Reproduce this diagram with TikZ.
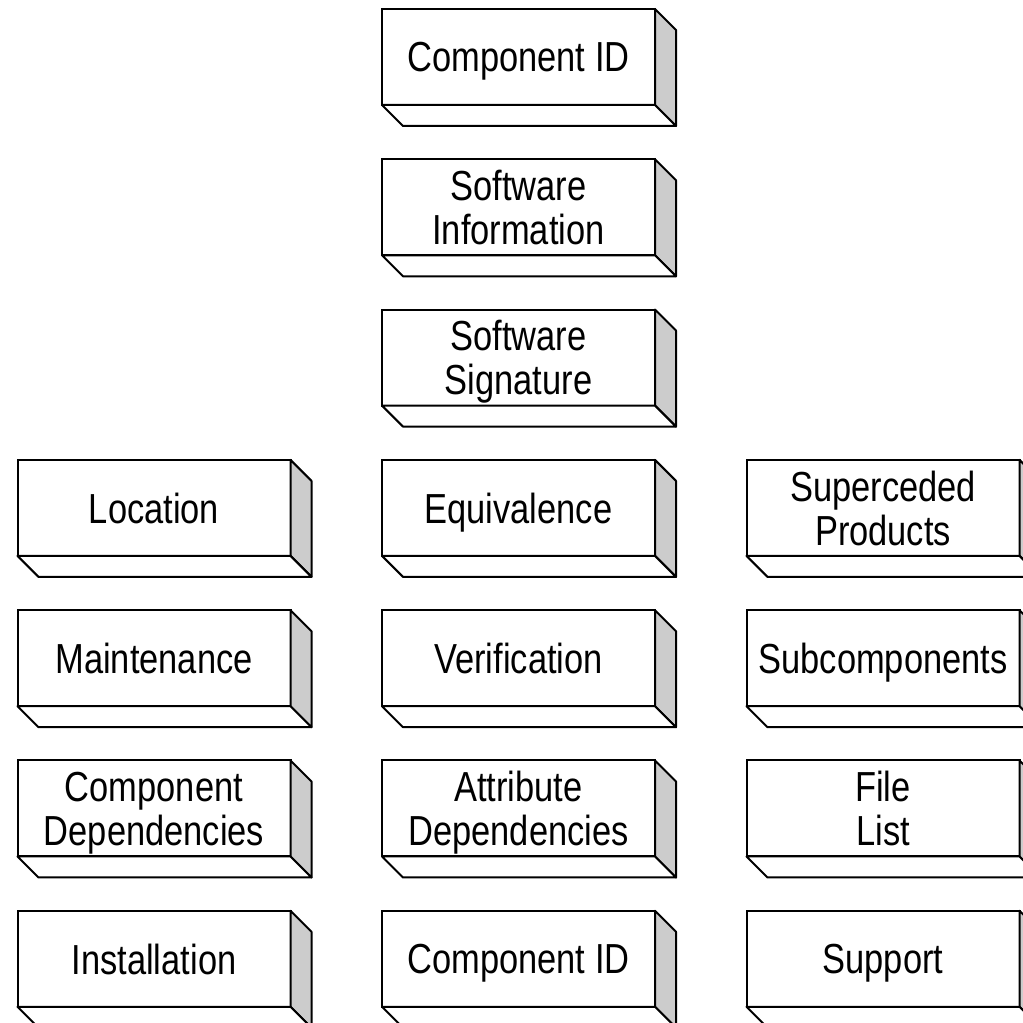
\documentclass[tikz,border=0pt]{standalone}
\usepackage{fontspec}
\setmainfont{Liberation Sans}[FakeStretch=0.82]
\usetikzlibrary{positioning}
\tikzset{%
  % Specifications for the faces of the blocks:
       slab/.style = {rectangle, draw=black, line width=1pt, fill=white,
                      minimum width=136.5pt, minimum height=48pt,
                      inner sep=0pt, outer sep=0pt, align=center,
                      text depth=-2pt,
                      font=\fontsize{21}{22}\selectfont},
   sideface/.style = {draw=black, line width=1pt, fill=gray!40, line join=round},
   baseface/.style = {draw=black, line width=1pt, fill=white, line join=round}
}
\begin{document}
\begin{tikzpicture}[node distance=27.15pt and 45.75pt]
  \useasboundingbox (0,0) rectangle (511.5pt,511.5pt);
  % middle column
  \node (compid)  [slab] at (259.25pt,483pt) {Component ID};
  \node (swinfo)  [slab, below=of compid]  {Software\\Information};
  \node (swsig)   [slab, below=of swinfo]  {Software\\Signature};
  \node (equiv)   [slab, below=of swsig]   {Equivalence};
  \node (verif)   [slab, below=of equiv]   {Verification};
  \node (attrdep) [slab, below=of verif]   {Attribute\\Dependencies};
  \node (compidb) [slab, below=of attrdep] {Component ID};
  % left column
  \node (location) [slab, left=of equiv]   {Location};
  \node (maint)    [slab, left=of verif]   {Maintenance};
  \node (compdep)  [slab, left=of attrdep] {Component\\Dependencies};
  \node (install)  [slab, left=of compidb] {Installation};
  % right column
  \node (superprod) [slab, right=of equiv]   {Superceded\\Products};
  \node (subcomp)   [slab, right=of verif]   {Subcomponents};
  \node (filelist)  [slab, right=of attrdep] {File\\List};
  \node (support)   [slab, right=of compidb] {Support};

  \foreach \n in {compid,swinfo,swsig,equiv,verif,attrdep,compidb,
                  location,maint,compdep,install,
                  superprod,subcomp,filelist,support}{
    \filldraw[sideface] (\n.north east) -- ++(10.5pt,-10.5pt)
      -- ([shift={(10.5pt,-10.5pt)}]\n.south east) -- (\n.south east) -- cycle;
    \filldraw[baseface] (\n.south west) -- ++(10.5pt,-10.5pt)
      -- ([shift={(10.5pt,-10.5pt)}]\n.south east) -- (\n.south east) -- cycle;
  }
\end{tikzpicture}
\end{document}
